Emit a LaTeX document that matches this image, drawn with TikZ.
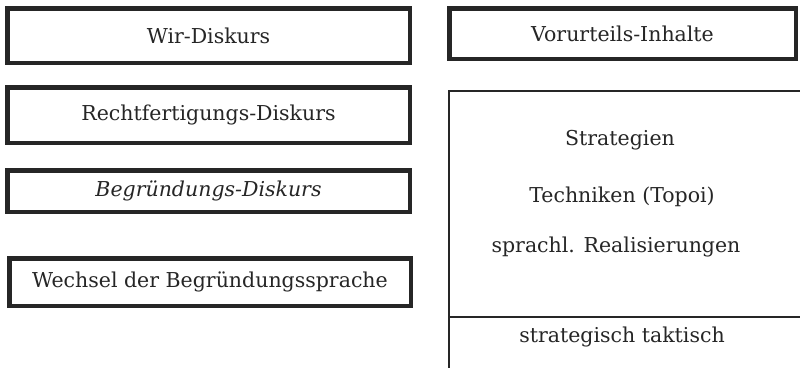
\documentclass[tikz,border=0pt]{standalone}
\usepackage{fontspec}
\setmainfont{DejaVu Serif}
\definecolor{ink}{HTML}{262626}
\begin{document}
\begin{tikzpicture}[x=1pt,y=-1pt,
  every node/.style={font=\fontsize{20.5}{24}\selectfont, text=ink},
  thickbox/.style={draw=ink, line width=4.5pt, inner sep=0pt, fill=white},
  thinline/.style={draw=ink, line width=1.1pt},
  label/.style={inner sep=0pt}]
\useasboundingbox (0,0) rectangle (800,368);
\fill[white] (0,0) rectangle (800,368);
\node[thickbox, minimum width=402.5pt, minimum height=54.5pt] (wir) at (208.5,35.5) {Wir-Diskurs};
\node[thickbox, minimum width=402.5pt, minimum height=55.5pt] (recht) at (208.5,115) {Rechtfertigungs-Diskurs};
\node[thickbox, minimum width=402.5pt, minimum height=41.5pt] (begr) at (208.5,191) {\itshape Begründungs-Diskurs};
\node[thickbox, minimum width=401.5pt, minimum height=47.5pt] (wechsel) at (210,282) {Wechsel der Begründungssprache};
\node[thickbox, minimum width=346.5pt, minimum height=50.5pt] (vor) at (622.5,33.5) {Vorurteils-Inhalte};
\coordinate (ftr) at (800,91);
\coordinate (ftl) at (449,91);
\coordinate (fbl) at (449,368);
\coordinate (dl) at (449,317);
\coordinate (dr) at (800,317);
\draw[thinline] (ftr) -- (ftl) -- (fbl);
\draw[thinline] (dl) -- (dr);
\node[label] (strat) at (620,140) {Strategien};
\node[label] (tech) at (622,197) {Techniken (Topoi)};
\node[label] (sprach) at (616,247) {sprachl. Realisierungen};
\node[label] (takt) at (622,337) {strategisch taktisch};
\end{tikzpicture}
\end{document}
